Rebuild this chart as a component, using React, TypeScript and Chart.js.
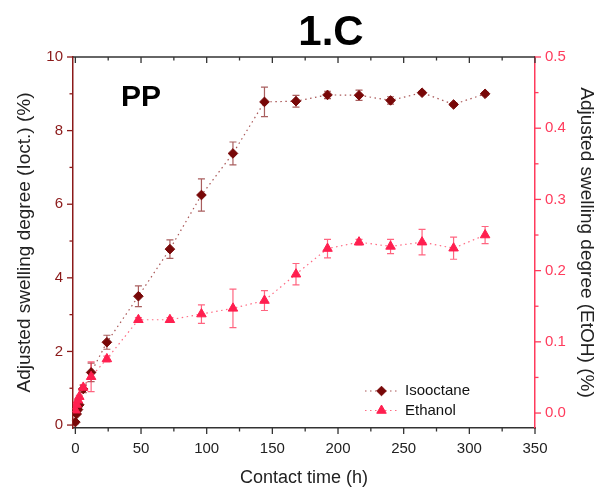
import React, { useEffect, useRef } from 'react';
import { Chart, registerables } from 'chart.js';

Chart.register(...registerables);

const FONT = '"Liberation Sans", Arial, Helvetica, sans-serif';

// ---- data ----
const times = [0, 1, 2, 3, 6, 12, 24, 48, 72, 96, 120, 144, 168, 192, 216, 240, 264, 288, 312];
const isooctane = [0.08, 0.3, 0.42, 0.55, 0.98, 1.43, 2.25, 3.5, 4.78, 6.25, 7.38, 8.78, 8.8, 8.97, 8.96, 8.82, 9.03, 8.71, 9.0];
const isooctaneErr = [0.04, 0.04, 0.04, 0.06, 0.1, 0.25, 0.19, 0.28, 0.25, 0.44, 0.31, 0.4, 0.16, 0.1, 0.14, 0.1, 0.04, 0.04, 0.04];
const ethanol = [0.004, 0.012, 0.018, 0.023, 0.036, 0.051, 0.076, 0.131, 0.131, 0.139, 0.147, 0.158, 0.195, 0.231, 0.24, 0.234, 0.24, 0.2315, 0.25];
const ethanolErr = [0.002, 0.002, 0.002, 0.002, 0.004, 0.021, 0.004, 0.003, 0.003, 0.013, 0.027, 0.014, 0.015, 0.013, 0.004, 0.01, 0.018, 0.0155, 0.012];

const xTicks = [0, 50, 100, 150, 200, 250, 300, 350];
const yLeftTicks = [0, 2, 4, 6, 8, 10];
const yRightTicks = [0, 0.1, 0.2, 0.3, 0.4, 0.5];

const seriesNames = ['Isooctane', 'Ethanol'];
const chartTitle = '1.C';
const panelLabel = 'PP';
const xTitle = 'Contact time (h)';
const yLeftTitle = 'Adjusted swelling degree (Ioct.) (%)';
const yRightTitle = 'Adjusted swelling degree (EtOH) (%)';

// ---- colours ----
const ISO_COLOR = '#780808';
const ISO_LINE = 'rgba(140,30,30,0.75)';
const ISO_ERR = 'rgba(140,40,40,0.75)';
const ETH_COLOR = '#FF1F4F';
const ETH_LINE = 'rgba(255,70,100,0.8)';
const ETH_ERR = 'rgba(255,50,85,0.75)';
const LEFT_AXIS = '#8B1A1A';
const RIGHT_AXIS = '#FF3B5C';
const FRAME = '#333333';

function midpoints(arr: number[]) {
  const out: number[] = [];
  for (let i = 0; i < arr.length - 1; i++) out.push((arr[i] + arr[i + 1]) / 2);
  return out;
}

const errorBarPlugin = {
  id: 'errorBars',
  beforeDatasetsDraw(chart: any) {
    const ctx = chart.ctx;
    chart.data.datasets.forEach((ds: any, di: number) => {
      const meta = chart.getDatasetMeta(di);
      const yScale = chart.scales[ds.yAxisID];
      if (!ds.errors) return;
      ctx.save();
      ctx.strokeStyle = ds.errorColor;
      ctx.lineWidth = 1.2;
      meta.data.forEach((pt: any, i: number) => {
        const v = ds.data[i].y;
        const e = ds.errors[i];
        const x = pt.x;
        const yTop = yScale.getPixelForValue(v + e);
        const yBot = yScale.getPixelForValue(v - e);
        ctx.beginPath();
        ctx.moveTo(x, yTop);
        ctx.lineTo(x, yBot);
        ctx.moveTo(x - 3.5, yTop);
        ctx.lineTo(x + 3.5, yTop);
        ctx.moveTo(x - 3.5, yBot);
        ctx.lineTo(x + 3.5, yBot);
        ctx.stroke();
      });
      ctx.restore();
    });
  },
};

const axisTickPlugin = {
  id: 'axisTicks',
  afterDraw(chart: any) {
    const ctx = chart.ctx;
    const { left, right, top, bottom } = chart.chartArea;
    const xs = chart.scales.x;
    const yl = chart.scales.y;
    const yr = chart.scales.y1;
    const MAJ = 6;
    const MIN = 3.5;
    ctx.save();
    ctx.lineWidth = 1.3;
    ctx.strokeStyle = FRAME;
    ctx.beginPath();
    ctx.moveTo(left, top);
    ctx.lineTo(right, top);
    ctx.stroke();
    const drawX = (vals: number[], len: number) => {
      vals.forEach((v) => {
        const px = xs.getPixelForValue(v);
        if (px < left - 0.5 || px > right + 0.5) return;
        ctx.beginPath();
        ctx.moveTo(px, bottom);
        ctx.lineTo(px, bottom + len);
        ctx.moveTo(px, top);
        ctx.lineTo(px, top + len);
        ctx.stroke();
      });
    };
    drawX(xTicks, MAJ);
    drawX(midpoints(xTicks), MIN);
    ctx.strokeStyle = LEFT_AXIS;
    const drawL = (vals: number[], len: number) => {
      vals.forEach((v) => {
        const py = yl.getPixelForValue(v);
        ctx.beginPath();
        ctx.moveTo(left - len, py);
        ctx.lineTo(left, py);
        ctx.stroke();
      });
    };
    drawL(yLeftTicks, MAJ);
    drawL(midpoints(yLeftTicks), MIN);
    ctx.strokeStyle = RIGHT_AXIS;
    const drawR = (vals: number[], len: number) => {
      vals.forEach((v) => {
        const py = yr.getPixelForValue(v);
        ctx.beginPath();
        ctx.moveTo(right, py);
        ctx.lineTo(right + len, py);
        ctx.stroke();
      });
    };
    drawR(yRightTicks, MAJ);
    drawR(midpoints(yRightTicks), MIN);
    ctx.restore();
  },
};

function drawMarker(ctx: CanvasRenderingContext2D, style: string, x: number, y: number, r: number, color: string) {
  ctx.fillStyle = color;
  ctx.strokeStyle = color;
  ctx.beginPath();
  if (style === 'rectRot') {
    ctx.moveTo(x - r, y);
    ctx.lineTo(x, y - r);
    ctx.lineTo(x + r, y);
    ctx.lineTo(x, y + r);
  } else {
    const s = Math.sin(Math.PI / 3) * r;
    ctx.moveTo(x, y - r);
    ctx.lineTo(x + s, y + r / 2);
    ctx.lineTo(x - s, y + r / 2);
  }
  ctx.closePath();
  ctx.fill();
  ctx.stroke();
}

const legendPlugin = {
  id: 'innerLegend',
  afterDraw(chart: any) {
    const ctx = chart.ctx;
    const { right, bottom } = chart.chartArea;
    ctx.save();
    chart.data.datasets.forEach((ds: any, i: number) => {
      const y = bottom - 37 + i * 19.5;
      const x0 = right - 170;
      const x1 = right - 137;
      ctx.strokeStyle = ds.borderColor;
      ctx.lineWidth = ds.borderWidth;
      ctx.setLineDash(ds.borderDash);
      ctx.beginPath();
      ctx.moveTo(x0, y);
      ctx.lineTo(x1, y);
      ctx.stroke();
      ctx.setLineDash([]);
      ctx.lineWidth = 1;
      drawMarker(ctx, ds.pointStyle, (x0 + x1) / 2, y, ds.pointRadius, ds.pointBackgroundColor);
      ctx.fillStyle = '#111';
      ctx.font = `15px ${FONT}`;
      ctx.textAlign = 'left';
      ctx.textBaseline = 'middle';
      ctx.fillText(ds.label, right - 130, y);
    });
    ctx.restore();
  },
};

const titlePlugin = {
  id: 'panelTitles',
  afterDraw(chart: any) {
    const ctx = chart.ctx;
    const { left } = chart.chartArea;
    ctx.save();
    ctx.fillStyle = '#000';
    ctx.textBaseline = 'alphabetic';
    ctx.font = `bold 42px ${FONT}`;
    ctx.textAlign = 'center';
    ctx.fillText(chartTitle, 331, 45);
    ctx.font = `bold 30px ${FONT}`;
    ctx.textAlign = 'left';
    ctx.fillText(panelLabel, left + 48, 106);
    ctx.restore();
  },
};

export default function App() {
  const ref = useRef<HTMLCanvasElement>(null);
  useEffect(() => {
    if (!ref.current) return;
    const chart = new Chart(ref.current, {
      type: 'scatter',
      data: {
        datasets: [
          {
            label: seriesNames[0],
            data: times.map((t, i) => ({ x: t, y: isooctane[i] })),
            errors: isooctaneErr,
            errorColor: ISO_ERR,
            yAxisID: 'y',
            showLine: true,
            borderColor: ISO_LINE,
            borderWidth: 1.2,
            borderDash: [1.5, 3.5],
            pointStyle: 'rectRot',
            pointRadius: 4.8,
            pointBackgroundColor: ISO_COLOR,
            pointBorderColor: ISO_COLOR,
            pointBorderWidth: 1,
            order: 1,
          } as any,
          {
            label: seriesNames[1],
            data: times.map((t, i) => ({ x: t, y: ethanol[i] })),
            errors: ethanolErr,
            errorColor: ETH_ERR,
            yAxisID: 'y1',
            showLine: true,
            borderColor: ETH_LINE,
            borderWidth: 1.2,
            borderDash: [1.5, 3.5],
            pointStyle: 'triangle',
            pointRadius: 5.5,
            pointBackgroundColor: ETH_COLOR,
            pointBorderColor: ETH_COLOR,
            pointBorderWidth: 1,
            order: 0,
          } as any,
        ],
      },
      options: {
        responsive: false,
        devicePixelRatio: 1,
        animation: false,
        layout: { padding: { top: 57, left: 0, right: 0, bottom: 0 } },
        plugins: {
          legend: { display: false },
          tooltip: { enabled: false },
          title: { display: false },
        },
        scales: {
          x: {
            type: 'linear',
            position: 'bottom',
            min: -1.8,
            max: 350,
            afterBuildTicks: (s: any) => {
              s.ticks = xTicks.map((v) => ({ value: v }));
            },
            afterFit: (s: any) => {
              s.height = 67;
            },
            ticks: {
              font: { family: FONT, size: 15 },
              color: '#222',
              padding: 12,
              autoSkip: false,
              maxRotation: 0,
              callback: (v: any) => String(v),
            },
            grid: { display: false, drawTicks: false },
            border: { display: true, color: FRAME, width: 1.5 },
            title: {
              display: true,
              text: xTitle,
              font: { family: FONT, size: 18 },
              color: '#222',
              padding: { top: 0, bottom: 6 },
            },
          },
          y: {
            type: 'linear',
            position: 'left',
            min: -0.08,
            max: 10,
            afterBuildTicks: (s: any) => {
              s.ticks = yLeftTicks.map((v) => ({ value: v }));
            },
            afterFit: (s: any) => {
              s.width = 73;
            },
            ticks: {
              font: { family: FONT, size: 15 },
              color: LEFT_AXIS,
              padding: 10,
              callback: (v: any) => String(v),
            },
            grid: { display: false, drawTicks: false },
            border: { display: true, color: LEFT_AXIS, width: 1.5 },
            title: {
              display: true,
              text: yLeftTitle,
              font: { family: FONT, size: 19 },
              color: '#222',
              padding: { top: 13.5, bottom: 0 },
            },
          },
          y1: {
            type: 'linear',
            position: 'right',
            min: -0.021,
            max: 0.5,
            afterBuildTicks: (s: any) => {
              s.ticks = yRightTicks.map((v) => ({ value: v }));
            },
            afterFit: (s: any) => {
              s.width = 68;
            },
            ticks: {
              font: { family: FONT, size: 15 },
              color: RIGHT_AXIS,
              padding: 10,
              callback: (v: any) => Number(v).toFixed(1),
            },
            grid: { display: false, drawTicks: false },
            border: { display: true, color: RIGHT_AXIS, width: 1.5 },
            title: {
              display: true,
              text: yRightTitle,
              font: { family: FONT, size: 19 },
              color: '#222',
              padding: { top: 5.5, bottom: 0 },
            },
          },
        },
      } as any,
      plugins: [errorBarPlugin, axisTickPlugin, legendPlugin, titlePlugin],
    });
    return () => chart.destroy();
  }, []);

  return (
    <div style={{ position: 'fixed', left: 0, top: 0, width: 603, height: 495, background: '#fff' }}>
      <canvas ref={ref} width={603} height={495} style={{ display: 'block', width: 603, height: 495 }} />
    </div>
  );
}
